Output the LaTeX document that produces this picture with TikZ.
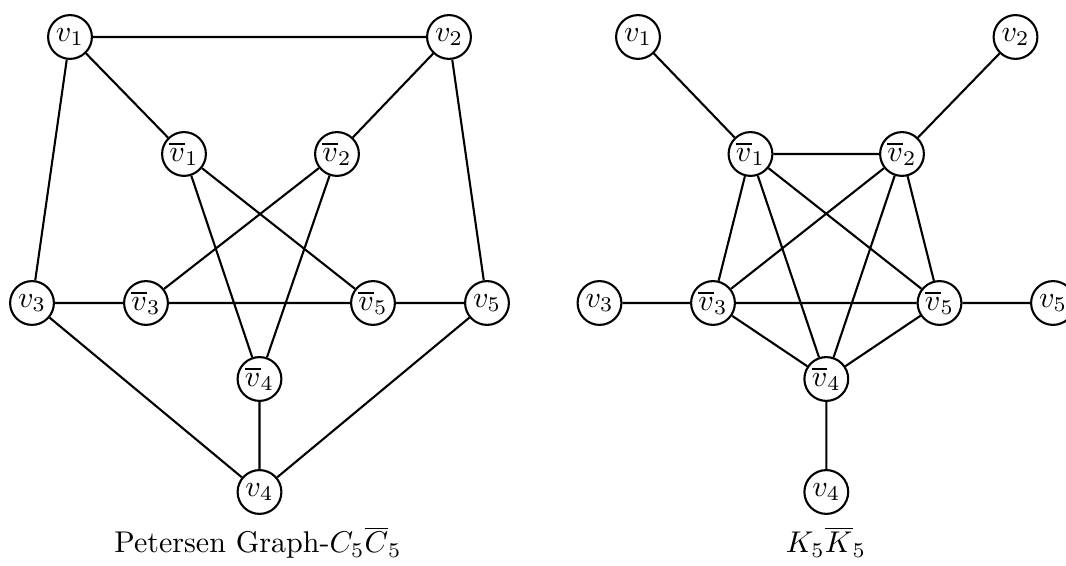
\documentclass[tikz,border=0pt]{standalone}
\begin{document}
\begin{tikzpicture}[x=0.3333pt,y=-0.3333pt,
  vtx/.style={circle,draw,line width=0.7pt,minimum size=14.6pt,inner sep=0pt,fill=white},
  edge/.style={line width=0.7pt}]
\useasboundingbox (0,0) rectangle (1066,566);
% left graph
\node[vtx] (a1) at (70,37) {$v_1$};
\node[vtx] (a2) at (449,37) {$v_2$};
\node[vtx] (a3) at (32,303) {$v_3$};
\node[vtx] (a4) at (259.5,492) {$v_4$};
\node[vtx] (a5) at (487,303) {$v_5$};
\node[vtx] (b1) at (184,154) {$\overline{v}_1$};
\node[vtx] (b2) at (337,154) {$\overline{v}_2$};
\node[vtx] (b3) at (146,303) {$\overline{v}_3$};
\node[vtx] (b4) at (259.5,379) {$\overline{v}_4$};
\node[vtx] (b5) at (373,303) {$\overline{v}_5$};
\node[anchor=base] (capA) at (258,553) {Petersen Graph-$C_5\overline{C}_5$};
\draw[edge] (a1) -- (a2) (a2) -- (a5) (a5) -- (a4) (a4) -- (a3) (a3) -- (a1);
\draw[edge] (a1) -- (b1) (a2) -- (b2) (a3) -- (b3) (a4) -- (b4) (a5) -- (b5);
\draw[edge] (b1) -- (b4) (b1) -- (b5) (b2) -- (b3) (b2) -- (b4) (b3) -- (b5);
% right graph
\node[vtx] (c1) at (638,37) {$v_1$};
\node[vtx] (c2) at (1015.5,37) {$v_2$};
\node[vtx] (c3) at (599.5,303) {$v_3$};
\node[vtx] (c4) at (826.3,492) {$v_4$};
\node[vtx] (c5) at (1053,303) {$v_5$};
\node[vtx] (d1) at (750.5,154) {$\overline{v}_1$};
\node[vtx] (d2) at (902,154) {$\overline{v}_2$};
\node[vtx] (d3) at (713,303) {$\overline{v}_3$};
\node[vtx] (d4) at (826.3,379) {$\overline{v}_4$};
\node[vtx] (d5) at (939.5,303) {$\overline{v}_5$};
\node[anchor=base] (capB) at (826,553) {$K_5\overline{K}_5$};
\draw[edge] (c1) -- (d1) (c2) -- (d2) (c3) -- (d3) (c4) -- (d4) (c5) -- (d5);
\draw[edge] (d1) -- (d2) (d1) -- (d3) (d1) -- (d4) (d1) -- (d5)
  (d2) -- (d3) (d2) -- (d4) (d2) -- (d5)
  (d3) -- (d4) (d3) -- (d5) (d4) -- (d5);
\end{tikzpicture}
\end{document}
